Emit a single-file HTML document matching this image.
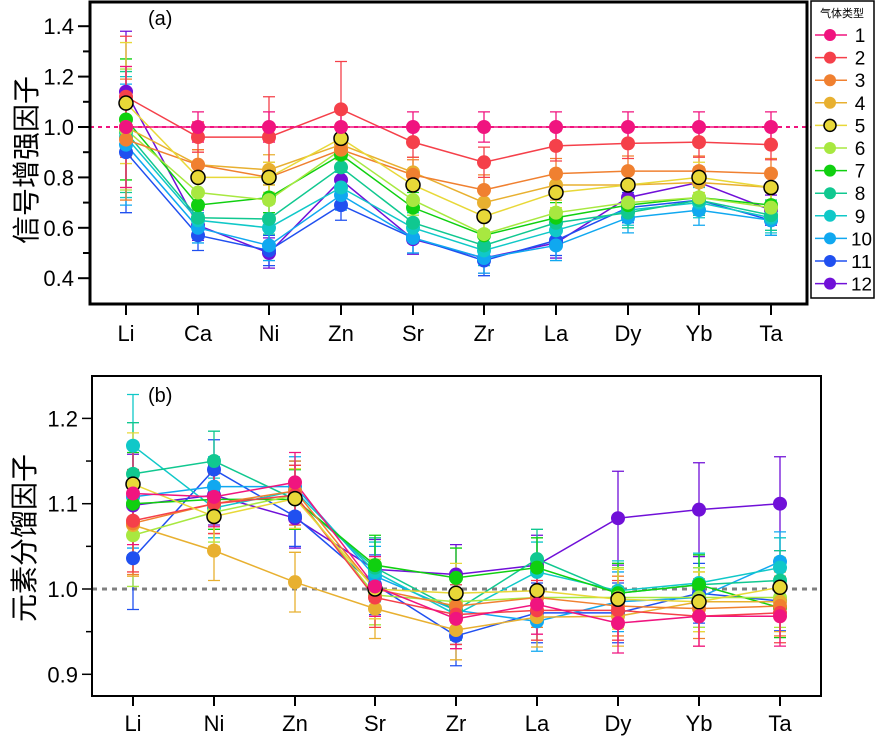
<!DOCTYPE html>
<html><head><meta charset="utf-8"><style>
html,body{margin:0;padding:0;background:#fff;width:875px;height:739px;overflow:hidden}
svg text{font-family:"Liberation Sans","Noto Sans CJK SC",sans-serif}
</style></head><body>
<svg id="s" width="875" height="739" xmlns="http://www.w3.org/2000/svg"></svg>
<script>
const S=document.getElementById('s');let h='';
const C=['#f0147f','#f5404a','#f08030','#e8b030','#e8d838','#a8e840','#10d010','#10c890','#10c8c8','#10a8f0','#2050f0','#7010d8'];
const tx=[126,198,269,341,413,484,556,628,699,771];
const ty=v=>127-(v-1)*252;
const T=[
[1,1,1,1,1,1,1,1,1,1],
[1.12,.96,.96,1.07,.94,.86,.925,.935,.94,.93],
[.95,.85,.80,.91,.81,.75,.815,.825,.825,.815],
[1.0,.85,.83,.93,.82,.70,.77,.77,.78,.76],
[1.095,.80,.80,.955,.77,.645,.74,.77,.80,.76],
[.99,.74,.71,.91,.71,.575,.66,.70,.72,.68],
[1.03,.69,.72,.89,.68,.57,.64,.69,.72,.69],
[.98,.64,.635,.84,.62,.53,.62,.66,.71,.65],
[.96,.63,.60,.76,.60,.51,.59,.67,.70,.64],
[.93,.60,.53,.73,.56,.48,.53,.64,.67,.63],
[.90,.57,.51,.69,.56,.47,.55,.68,.71,.63],
[1.14,.61,.50,.79,.555,.48,.54,.72,.78,.67]];
const bx=[133,214,295,375,456,537,618,699,780];
const by=v=>589-(v-1)*853;
const B=[
[1.112,1.108,1.125,1.003,.965,.982,.96,.968,.968],
[1.08,1.10,1.11,.99,.97,.975,.975,.968,.972],
[1.077,1.10,1.115,1.0,.98,.99,.98,.977,.98],
[1.075,1.045,1.008,.977,.952,.967,.968,.985,.985],
[1.123,1.085,1.106,1.0,.995,.998,.988,.985,1.002],
[1.063,1.09,1.11,.993,.985,.99,.99,.99,.99],
[1.10,1.105,1.105,1.028,1.013,1.025,.995,1.005,.978],
[1.135,1.15,1.105,1.025,.975,1.035,.995,1.005,1.01],
[1.168,1.095,1.115,1.02,.97,1.02,.998,1.007,1.025],
[1.108,1.12,1.12,1.015,.975,.962,.985,.99,1.032],
[1.036,1.14,1.085,1.005,.945,.972,.972,.995,.986],
[1.098,1.11,1.083,1.023,1.017,1.028,1.083,1.093,1.10]];
function draw(xs,fy,D,errF,ord){
 let e='',l='',m='';
 ord.forEach(i=>{const d=D[i];const c=C[i];
  l+=`<polyline fill="none" stroke="${c}" stroke-width="1.5" points="${d.map((v,j)=>xs[j]+','+fy(v)).join(' ')}"/>`;
  d.forEach((v,j)=>{const er=errF(i,j);const y1=fy(v+er),y2=fy(v-er);
   e+=`<path d="M${xs[j]},${y1}V${y2}M${xs[j]-6},${y1}h12M${xs[j]-6},${y2}h12" stroke="${c}" stroke-width="1.3"/>`;
   m+=`<circle cx="${xs[j]}" cy="${fy(v)}" r="7" fill="${c}"${i==4?' stroke="#000" stroke-width="1.5"':''}/>`;});
 });
 return e+l+m;
}
const ord=[11,10,9,8,7,6,5,3,2,1,4,0];
h+=`<line x1="90" y1="127" x2="860" y2="127" stroke="#f0147f" stroke-width="2" stroke-dasharray="4,4"/>`;
h+=draw(tx,ty,T,(i,j)=>j==0?0.24:(i==1&&j==3?0.19:(i==1&&j==2?0.16:0.06)),ord);
h+=`<rect x="90" y="2" width="717" height="302" fill="none" stroke="#000" stroke-width="3"/>`;
for(let v=0.4;v<=1.401;v+=0.1){const y=ty(v);const maj=Math.round(v*10)%2==0;
 h+=`<line x1="${maj?78:83}" y1="${y}" x2="90" y2="${y}" stroke="#000" stroke-width="2"/>`;
 if(maj)h+=`<text x="74" y="${y+8}" font-size="22" text-anchor="end">${v.toFixed(1)}</text>`;}
['Li','Ca','Ni','Zn','Sr','Zr','La','Dy','Yb','Ta'].forEach((t,j)=>{h+=`<line x1="${tx[j]}" y1="304" x2="${tx[j]}" y2="315" stroke="#000" stroke-width="2"/><text x="${tx[j]}" y="341" font-size="22" text-anchor="middle">${t}</text>`});
h+=`<text x="148" y="25" font-size="20">(a)</text>`;
h+=`<text transform="translate(36,160) rotate(-90)" font-size="28" text-anchor="middle">信号增强因子</text>`;
h+=`<rect x="811" y="1" width="63" height="297" fill="#fff" stroke="#000" stroke-width="1.5"/>`;
h+=`<text x="842" y="17" font-size="11" text-anchor="middle">气体类型</text>`;
C.forEach((c,i)=>{const y=35+i*22.6;h+=`<line x1="815" y1="${y}" x2="847" y2="${y}" stroke="${c}" stroke-width="1.5"/><circle cx="830" cy="${y}" r="6" fill="${c}"${i==4?' stroke="#000" stroke-width="1.5"':''}/>`+(i<9?`<text x="860" y="${y+7}" font-size="19" text-anchor="middle">${i+1}</text>`:`<text x="872" y="${y+7}" font-size="18" text-anchor="end" textLength="21" lengthAdjust="spacingAndGlyphs">${i+1}</text>`)});
h+=`<line x1="92" y1="589" x2="821" y2="589" stroke="#808080" stroke-width="3" stroke-dasharray="5,5"/>`;
h+=draw(bx,by,B,(i,j)=>(i==11&&j>=6)?0.055:(j==0?0.06:0.035),ord);
h+=`<rect x="92" y="376" width="729" height="320" fill="none" stroke="#000" stroke-width="2"/>`;
for(let k=0;k<=6;k++){const v=0.9+k*0.05;const y=by(v);const maj=k%2==0;
 h+=`<line x1="${maj?82:86}" y1="${y}" x2="92" y2="${y}" stroke="#000" stroke-width="1.5"/>`;
 if(maj)h+=`<text x="78" y="${y+8}" font-size="22" text-anchor="end">${v.toFixed(1)}</text>`;}
['Li','Ni','Zn','Sr','Zr','La','Dy','Yb','Ta'].forEach((t,j)=>{h+=`<line x1="${bx[j]}" y1="696" x2="${bx[j]}" y2="706" stroke="#000" stroke-width="2"/><text x="${bx[j]}" y="731" font-size="22" text-anchor="middle">${t}</text>`});
h+=`<text x="148" y="402" font-size="20">(b)</text>`;
h+=`<text transform="translate(34,538) rotate(-90)" font-size="28" text-anchor="middle">元素分馏因子</text>`;
S.innerHTML=h;
</script>
</body></html>
